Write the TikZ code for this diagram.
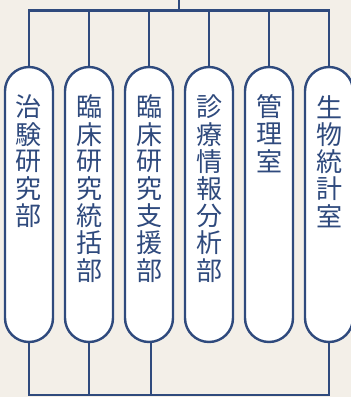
\documentclass[tikz,border=0pt]{standalone}
\usepackage{fontspec}
\newfontfamily\jpfont{Noto Sans CJK JP}
\definecolor{bg}{HTML}{F3EFE8}
\definecolor{navy}{HTML}{2F4A7D}
\begin{document}
\begin{tikzpicture}[x=1pt,y=-1pt,
  pill/.style={draw=navy,line width=2.4pt,fill=white,rounded corners=24pt,minimum width=48pt,minimum height=275pt,inner sep=0pt},
  conn/.style={draw=navy,line width=2.4pt},
  chr/.style={text=navy,font=\jpfont\fontsize{26}{26}\selectfont,inner sep=0pt,anchor=center}]
\fill[bg] (0,0) rectangle (351,397);
\useasboundingbox (0,0) rectangle (351,397);
% top
\coordinate (top) at (179,-2);
\coordinate (bus) at (179,10.5);
\coordinate (busL) at (29,10.5);
\coordinate (busR) at (329,10.5);
\coordinate (botL) at (29,395);
\coordinate (botR) at (329,395);
\foreach \c/\n in {29/1,89/2,149/3,209/4,269/5,329/6}{
  \node[pill] (p\n) at (\c,204.5) {};
  \coordinate (t\n) at (\c,10.5);
}
\draw[conn] (top) -- (bus);
\draw[conn,line cap=rect] (busL) -- (busR);
\foreach \n in {1,...,6}{ \draw[conn] (t\n) -- (p\n.north); }
% bottom
\coordinate (b1) at (29,395);
\coordinate (b2) at (89,395);
\coordinate (b3) at (151,395);
\coordinate (b6) at (329,395);
\draw[conn] (p1.south) -- (b1);
\draw[conn] (p2.south) -- (b2);
\draw[conn] (p3.south -| b3) -- (b3);
\draw[conn] (p6.south) -- (b6);
\draw[conn,line cap=rect] (botL) -- (botR);
% texts
\foreach \col/\x/\txt in {1/29/{治,験,研,究,部},2/89/{臨,床,研,究,統,括,部},3/149/{臨,床,研,究,支,援,部},4/209/{診,療,情,報,分,析,部},5/269/{管,理,室},6/329/{生,物,統,計,室}}{
  \foreach \ch [count=\i from 0] in \txt {
    \node[chr] (c\col-\i) at (\x,107+27.2*\i) {\ch};
  }
}
\end{tikzpicture}
\end{document}
